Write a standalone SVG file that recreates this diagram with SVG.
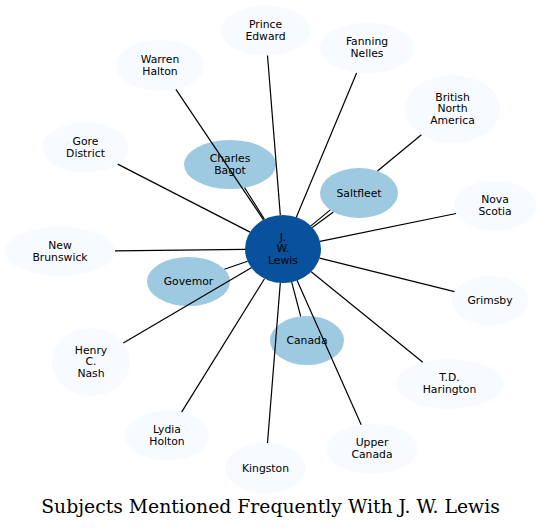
<svg xmlns="http://www.w3.org/2000/svg" width="540" height="528" viewBox="0 0 540 528">
<style>
.outer{fill:#f7fbff;stroke:none}
.mid{fill:#9ecae1;stroke:none}
.core{fill:#08519c;stroke:none}
text{font-family:"DejaVu Sans",sans-serif;font-size:10.8px;fill:#000;text-anchor:middle}
.title{font-family:"DejaVu Serif",serif;font-size:18.8px}
#edges line,#edges path{stroke:#000;stroke-width:1.2;fill:none}
</style>
<rect width="540" height="528" fill="#fff"/>
<g id="nodes">
<g id="n-prince-edward"><ellipse class="outer" cx="265.5" cy="30.5" rx="45" ry="25"/><text x="265.5" y="27.9">Prince</text><text x="265.5" y="39.6">Edward</text></g>
<g id="n-fanning-nelles"><ellipse class="outer" cx="367" cy="48" rx="47" ry="25.5"/><text x="367" y="45.4">Fanning</text><text x="367" y="57.1">Nelles</text></g>
<g id="n-warren-halton"><ellipse class="outer" cx="160" cy="65.5" rx="44" ry="25.5"/><text x="160" y="62.9">Warren</text><text x="160" y="74.6">Halton</text></g>
<g id="n-british-north-america"><ellipse class="outer" cx="452.5" cy="109" rx="47.5" ry="34"/><text x="452.5" y="100.6">British</text><text x="452.5" y="112.3">North</text><text x="452.5" y="124">America</text></g>
<g id="n-gore-district"><ellipse class="outer" cx="85.5" cy="147.5" rx="43" ry="25"/><text x="85.5" y="144.9">Gore</text><text x="85.5" y="156.6">District</text></g>
<g id="n-nova-scotia"><ellipse class="outer" cx="495" cy="205.5" rx="41" ry="25"/><text x="495" y="202.9">Nova</text><text x="495" y="214.6">Scotia</text></g>
<g id="n-new-brunswick"><ellipse class="outer" cx="60" cy="251.5" rx="55" ry="24.5"/><text x="60" y="248.9">New</text><text x="60" y="260.6">Brunswick</text></g>
<g id="n-grimsby"><ellipse class="outer" cx="490" cy="300.5" rx="38" ry="24.5"/><text x="490" y="304">Grimsby</text></g>
<g id="n-henry-nash"><ellipse class="outer" cx="91" cy="362" rx="39" ry="34"/><text x="91" y="353.6">Henry</text><text x="91" y="365.3">C.</text><text x="91" y="377">Nash</text></g>
<g id="n-td-harington"><ellipse class="outer" cx="449.5" cy="384" rx="53.5" ry="25"/><text x="449.5" y="381.4">T.D.</text><text x="449.5" y="393.1">Harington</text></g>
<g id="n-lydia-holton"><ellipse class="outer" cx="167" cy="435.5" rx="42" ry="25"/><text x="167" y="432.9">Lydia</text><text x="167" y="444.6">Holton</text></g>
<g id="n-kingston"><ellipse class="outer" cx="265.5" cy="468" rx="40.5" ry="25"/><text x="265.5" y="471.5">Kingston</text></g>
<g id="n-upper-canada"><ellipse class="outer" cx="372" cy="449" rx="45.5" ry="25"/><text x="372" y="446.4">Upper</text><text x="372" y="458.1">Canada</text></g>
<g id="n-charles-bagot"><ellipse class="mid" cx="230" cy="164.5" rx="46" ry="24.5"/><text x="230" y="161.9">Charles</text><text x="230" y="173.6">Bagot</text></g>
<g id="n-saltfleet"><ellipse class="mid" cx="359" cy="193" rx="39" ry="25"/><text x="359" y="196.5">Saltfleet</text></g>
<g id="n-governor"><ellipse class="mid" cx="188.5" cy="281.5" rx="41.5" ry="24.5"/><text x="188.5" y="285">Govemor</text></g>
<g id="n-canada"><ellipse class="mid" cx="307" cy="340.5" rx="37" ry="24.5"/><text x="307" y="344">Canada</text></g>
<g id="n-jw-lewis"><ellipse class="core" cx="283" cy="249" rx="38" ry="34"/><text x="283" y="240.6">J.</text><text x="283" y="252.3">W.</text><text x="283" y="264">Lewis</text></g>
</g>
<g id="edges">
<line x1="267.5" y1="55.5" x2="280.3" y2="215.1"/>
<line x1="356.6" y1="72.9" x2="296.3" y2="217.2"/>
<line x1="175.9" y1="89.3" x2="263.5" y2="219.8"/>
<path d="M421.4,134.7 L377.5,171 M330.3,209.9 L310.9,225.9"/>
<line x1="333.4" y1="211.9" x2="312.3" y2="227.4"/>
<line x1="117.7" y1="164.1" x2="250.1" y2="232.1"/>
<line x1="456.1" y1="213.5" x2="320" y2="241.4"/>
<line x1="115" y1="250.9" x2="245" y2="249.4"/>
<line x1="454.5" y1="291.7" x2="319.6" y2="258.1"/>
<line x1="224.4" y1="269.2" x2="247.5" y2="261.2"/>
<line x1="123.3" y1="343" x2="251.3" y2="267.7"/>
<line x1="422.8" y1="362.3" x2="311.2" y2="271.8"/>
<line x1="181.6" y1="412.1" x2="264.5" y2="278.7"/>
<line x1="267.5" y1="443" x2="280.3" y2="282.9"/>
<line x1="361.2" y1="424.7" x2="297.1" y2="280.6"/>
<line x1="300.7" y1="316.4" x2="291.7" y2="282.1"/>
<line x1="244.6" y1="187.7" x2="264.4" y2="219.3"/>
</g>
<text class="title" x="270.5" y="513">Subjects Mentioned Frequently With J. W. Lewis</text>
</svg>
